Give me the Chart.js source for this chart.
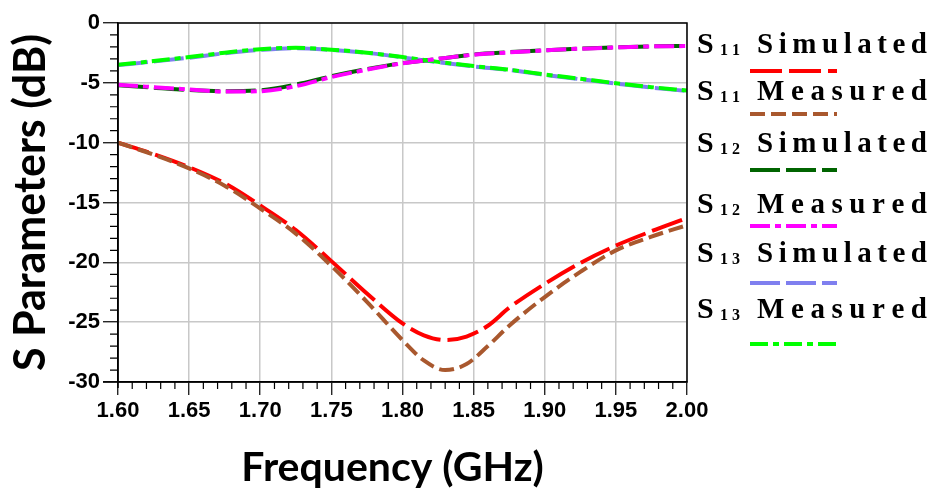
<!DOCTYPE html>
<html lang="en">
<head>
    <meta charset="UTF-8">
    <title>S Parameters</title>
    <script src="https://cdn.jsdelivr.net/npm/chart.js@4"></script>
    <style>
        body, html {
            margin: 0;
            padding: 0;
            background: #fff;
        }

        .wrap {
            width: 934px;
            height: 495px;
        }
    </style>
</head>
<body>

    <div class="wrap">
        <canvas id="sChart" width="934" height="495"></canvas>
    </div>

    <script>
        // frequency points (GHz)
        var freqS11 = [1.600, 1.625, 1.650, 1.675, 1.700, 1.725, 1.750, 1.775, 1.800, 1.815, 1.830, 1.845, 1.860, 1.875, 1.900, 1.925, 1.950, 1.975, 2.000];
        var freq = [1.600, 1.625, 1.650, 1.675, 1.700, 1.725, 1.750, 1.775, 1.800, 1.825, 1.850, 1.875, 1.900, 1.925, 1.950, 1.975, 2.000];

        // values in dB
        var s11Sim  = [-10.0, -10.95, -12.05, -13.4, -15.25, -17.3, -19.9, -22.6, -25.1, -26.1, -26.5, -26.2, -25.3, -23.8, -21.8, -20.05, -18.6, -17.4, -16.3];
        var s11Meas = [-10.0, -11.0, -12.15, -13.6, -15.5, -17.6, -20.3, -23.3, -26.5, -28.2, -29.0, -28.5, -27.0, -25.3, -22.9, -20.8, -19.0, -17.85, -16.9];
        var s12Sim  = [-5.2, -5.4, -5.6, -5.7, -5.62, -5.15, -4.45, -3.85, -3.35, -3.0, -2.63, -2.44, -2.28, -2.14, -2.03, -1.95, -1.92];
        var s12Meas = [-5.16, -5.36, -5.56, -5.73, -5.7, -5.28, -4.52, -3.9, -3.37, -3.0, -2.65, -2.46, -2.29, -2.15, -2.04, -1.95, -1.93];
        var s13Sim  = [-3.52, -3.22, -2.9, -2.53, -2.25, -2.1, -2.25, -2.5, -2.87, -3.28, -3.63, -3.93, -4.33, -4.7, -5.06, -5.4, -5.68];
        var s13Meas = [-3.49, -3.18, -2.85, -2.48, -2.2, -2.07, -2.23, -2.48, -2.85, -3.25, -3.6, -3.9, -4.3, -4.66, -5.03, -5.36, -5.64];

        var seriesNames = ['S11 Simulated', 'S11 Measured', 'S12 Simulated', 'S12 Measured', 'S13 Simulated', 'S13 Measured'];
        var xTicks = [1.60, 1.65, 1.70, 1.75, 1.80, 1.85, 1.90, 1.95, 2.00];
        var yTicks = [0, -5, -10, -15, -20, -25, -30];

        function pts(xs, ys) {
            return xs.map(function (x, i) { return { x: x, y: ys[i] }; });
        }

        function series(idx, xs, ys, color, dash, order) {
            return {
                label: seriesNames[idx],
                data: pts(xs, ys),
                borderColor: color,
                borderWidth: 4,
                borderDash: dash,
                pointRadius: 0,
                cubicInterpolationMode: 'monotone',
                fill: false,
                order: order
            };
        }

        var tickFont = { family: '"Liberation Sans", Arial, sans-serif', size: 22, weight: 'bold' };
        var xTitleFont = { family: 'Lato, "Liberation Sans", sans-serif', size: 41, weight: 'bold' };
        var yTitleFont = { family: 'Lato, "Liberation Sans", sans-serif', size: 43, weight: 'bold' };

        // legend rows: text baseline and sample line y
        var legendRows = [
            { text: 53, line: 71 },
            { text: 100, line: 114 },
            { text: 152, line: 170 },
            { text: 213, line: 226 },
            { text: 262, line: 283 },
            { text: 318, line: 344 }
        ];

        function spacedText(ctx, str, x, y, totalWidth) {
            var w = 0;
            for (var i = 0; i < str.length; i++) w += ctx.measureText(str[i]).width;
            var gap = str.length > 1 ? (totalWidth - w) / (str.length - 1) : 0;
            for (var j = 0; j < str.length; j++) {
                ctx.fillText(str[j], x, y);
                x += ctx.measureText(str[j]).width + gap;
            }
        }

        var extrasPlugin = {
            id: 'extras',
            afterDraw: function (chart) {
                var ctx = chart.ctx;
                var a = chart.chartArea;
                var xs = chart.scales.x;
                var ys = chart.scales.y;
                ctx.save();

                // box
                ctx.strokeStyle = '#000';
                ctx.lineWidth = 1.5;
                ctx.strokeRect(a.left, a.top, a.right - a.left, a.bottom - a.top);
                ctx.beginPath();
                ctx.moveTo(a.left - 15, a.bottom);
                ctx.lineTo(a.left, a.bottom);
                ctx.moveTo(a.left, a.bottom);
                ctx.lineTo(a.left, a.bottom + 6);
                ctx.stroke();

                // minor ticks
                ctx.lineWidth = 1.2;
                ctx.beginPath();
                for (var v = -30; v <= 0; v++) {
                    if (v % 5 === 0) continue;
                    var py = ys.getPixelForValue(v);
                    ctx.moveTo(a.left - 8, py);
                    ctx.lineTo(a.left, py);
                }
                for (var k = 160; k <= 200; k++) {
                    if (k % 5 === 0) continue;
                    var px = xs.getPixelForValue(k / 100);
                    ctx.moveTo(px, a.bottom);
                    ctx.lineTo(px, a.bottom + 7);
                }
                ctx.stroke();

                // legend
                ctx.fillStyle = '#000';
                ctx.textBaseline = 'alphabetic';
                chart.data.datasets.forEach(function (ds, i) {
                    var row = legendRows[i];
                    var m = /^S(\d+) (.+)$/.exec(ds.label);
                    ctx.font = 'bold 30px "Liberation Serif", "Times New Roman", serif';
                    ctx.fillText('S', 697, row.text);
                    ctx.font = 'bold 16px "Liberation Serif", "Times New Roman", serif';
                    spacedText(ctx, m[1], 720, row.text + 2, 20);
                    ctx.font = 'bold 29px "Liberation Serif", "Times New Roman", serif';
                    spacedText(ctx, m[2], 757, row.text, 170);

                    ctx.strokeStyle = ds.borderColor;
                    ctx.lineWidth = 4;
                    ctx.setLineDash(ds.borderDash);
                    ctx.beginPath();
                    ctx.moveTo(750, row.line);
                    ctx.lineTo(837, row.line);
                    ctx.stroke();
                    ctx.setLineDash([]);
                });

                ctx.restore();
            }
        };

        var chart = new Chart(document.getElementById('sChart'), {
            type: 'line',
            data: {
                datasets: [
                    series(0, freqS11, s11Sim, '#ff0000', [32, 7], 2),
                    series(1, freqS11, s11Meas, '#a9582e', [15, 6], 1),
                    series(2, freq, s12Sim, '#006400', [30, 6], 2),
                    series(3, freq, s12Meas, '#ff00ff', [20, 5, 6, 5], 1),
                    series(4, freq, s13Sim, '#7f7fef', [30, 6], 2),
                    series(5, freq, s13Meas, '#00ff00', [18, 5, 6, 5], 1)
                ]
            },
            options: {
                responsive: false,
                animation: false,
                layout: {
                    padding: { top: 23, right: 247, left: 0, bottom: 0 }
                },
                plugins: {
                    legend: { display: false },
                    tooltip: { enabled: false }
                },
                scales: {
                    x: {
                        type: 'linear',
                        min: 1.6,
                        max: 2.0,
                        afterFit: function (scale) { scale.height = 113; },
                        afterBuildTicks: function (scale) {
                            scale.ticks = xTicks.map(function (v) { return { value: v }; });
                        },
                        ticks: {
                            color: '#000',
                            font: tickFont,
                            padding: 3,
                            maxRotation: 0,
                            callback: function (v) { return Number(v).toFixed(2); }
                        },
                        grid: {
                            color: '#c8c8c8',
                            lineWidth: 1.5,
                            tickColor: '#000',
                            tickLength: 13,
                            tickWidth: 1.2
                        },
                        border: { color: '#000', width: 1.5 },
                        title: {
                            display: true,
                            text: 'Frequency (GHz)  ',
                            color: '#000',
                            font: xTitleFont,
                            padding: { top: 0, bottom: 3 }
                        }
                    },
                    y: {
                        min: -30,
                        max: 0,
                        afterFit: function (scale) { scale.width = 118; },
                        afterBuildTicks: function (scale) {
                            scale.ticks = yTicks.map(function (v) { return { value: v }; });
                        },
                        ticks: {
                            color: '#000',
                            font: tickFont,
                            padding: 3
                        },
                        grid: {
                            color: '#c8c8c8',
                            lineWidth: 1.5,
                            tickColor: '#000',
                            tickLength: 15,
                            tickWidth: 1.2
                        },
                        border: { color: '#000', width: 1.5 },
                        title: {
                            display: true,
                            text: 'S Parameters (dB)',
                            color: '#000',
                            font: yTitleFont,
                            padding: { top: 5, bottom: 0 }
                        }
                    }
                }
            },
            plugins: [extrasPlugin]
        });
    </script>
</body>
</html>
